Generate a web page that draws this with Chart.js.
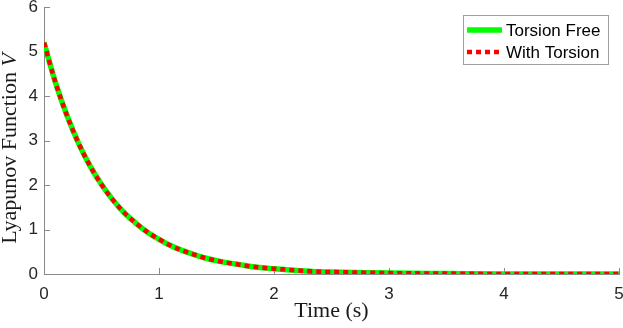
<!DOCTYPE html>
<html>
<head>
<meta charset="utf-8">
<title>Lyapunov Function</title>
<script src="https://cdn.jsdelivr.net/npm/chart.js@4.4.1/dist/chart.umd.min.js"></script>
<style>
  html, body { margin: 0; padding: 0; background: #fff; }
  #wrap { width: 623px; height: 328px; position: relative; }
</style>
</head>
<body>
<div id="wrap"><canvas id="lyapChart"></canvas></div>
<script>
// values
const timeSec = [0, 0.1, 0.2, 0.3, 0.4, 0.5, 0.6, 0.7, 0.8, 0.9,
                 1.0, 1.1, 1.2, 1.3, 1.4, 1.5, 1.6, 1.7, 1.8, 1.9,
                 2.0, 2.2, 2.4, 2.6, 2.8, 3.0, 3.5, 4.0, 4.5, 5.0];
const torsionFree = [5.20, 4.30, 3.56, 2.94, 2.43, 2.01, 1.66, 1.37, 1.14, 0.94,
                     0.78, 0.64, 0.53, 0.44, 0.36, 0.30, 0.25, 0.21, 0.17, 0.14,
                     0.12, 0.08, 0.05, 0.04, 0.03, 0.02, 0.01, 0.00, 0.00, 0.00];
const withTorsion = [5.20, 4.30, 3.56, 2.94, 2.43, 2.01, 1.66, 1.37, 1.14, 0.94,
                     0.78, 0.64, 0.53, 0.44, 0.36, 0.30, 0.25, 0.21, 0.17, 0.14,
                     0.12, 0.08, 0.05, 0.04, 0.03, 0.02, 0.01, 0.00, 0.00, 0.00];
const xTicks = [0, 1, 2, 3, 4, 5];
const yTicks = [0, 1, 2, 3, 4, 5, 6];

const axisColor = '#8a8a8a';
const tickFont = { family: 'Liberation Sans', size: 17 };

function toPoints(ys) {
    return timeSec.map((t, i) => ({ x: t, y: ys[i] }));
}

// MATLAB style ticks pointing into the plot
const inwardTicks = {
    id: 'inwardTicks',
    beforeDatasetsDraw(chart) {
        const { ctx, chartArea, scales } = chart;
        ctx.save();
        ctx.strokeStyle = axisColor;
        ctx.lineWidth = 1;
        ctx.beginPath();
        xTicks.forEach(v => {
            const px = Math.round(scales.x.getPixelForValue(v)) + 0.5;
            ctx.moveTo(px, chartArea.bottom);
            ctx.lineTo(px, chartArea.bottom - 6);
        });
        yTicks.forEach(v => {
            const py = Math.round(scales.y.getPixelForValue(v)) + 0.5;
            ctx.moveTo(chartArea.left, py);
            ctx.lineTo(chartArea.left + 6, py);
        });
        ctx.stroke();
        ctx.restore();
    }
};

// y title with an italic V
const yTitle = {
    id: 'yTitle',
    afterDraw(chart) {
        const { ctx, chartArea } = chart;
        const plain = 'Lyapunov Function ';
        const ital = 'V';
        ctx.save();
        ctx.translate(16, (chartArea.top + chartArea.bottom) / 2 + 8);
        ctx.rotate(-Math.PI / 2);
        ctx.fillStyle = '#1a1a1a';
        ctx.textBaseline = 'alphabetic';
        ctx.font = '22px "Liberation Serif"';
        const w1 = ctx.measureText(plain).width;
        ctx.font = 'italic 22px "Liberation Serif"';
        const w2 = ctx.measureText(ital).width;
        let x = -(w1 + w2) / 2;
        ctx.font = '22px "Liberation Serif"';
        ctx.textAlign = 'left';
        ctx.fillText(plain, x, 0);
        ctx.font = 'italic 22px "Liberation Serif"';
        ctx.fillText(ital, x + w1, 0);
        ctx.restore();
    }
};

// boxed legend in the top right corner
const boxLegend = {
    id: 'boxLegend',
    afterDraw(chart) {
        const { ctx } = chart;
        const sets = chart.data.datasets;
        const bx = 463.5, by = 15.5, bw = 145, bh = 49;
        ctx.save();
        ctx.fillStyle = '#fff';
        ctx.fillRect(bx, by, bw, bh);
        ctx.strokeStyle = '#a0a0a0';
        ctx.lineWidth = 1;
        ctx.strokeRect(bx, by, bw, bh);
        sets.forEach((ds, i) => {
            const cy = 30 + i * 22;
            ctx.beginPath();
            ctx.strokeStyle = ds.borderColor;
            ctx.lineWidth = ds.borderWidth;
            ctx.setLineDash(ds.borderDash || []);
            ctx.moveTo(467, cy);
            ctx.lineTo(502, cy);
            ctx.stroke();
            ctx.setLineDash([]);
            ctx.fillStyle = '#000';
            ctx.font = '17px "Liberation Sans"';
            ctx.textBaseline = 'middle';
            ctx.textAlign = 'left';
            ctx.fillText(ds.label, 506, cy + 1);
        });
        ctx.restore();
    }
};

const ctx = document.getElementById('lyapChart').getContext('2d');
const lyapChart = new Chart(ctx, {
    type: 'line',
    data: {
        datasets: [{
            label: 'Torsion Free',
            data: toPoints(torsionFree),
            borderColor: '#00ff00',
            borderWidth: 5.5,
            pointRadius: 0,
            cubicInterpolationMode: 'monotone',
            order: 1
        }, {
            label: 'With Torsion',
            data: toPoints(withTorsion),
            borderColor: '#ff0000',
            borderWidth: 4.5,
            borderDash: [5, 4],
            borderCapStyle: 'butt',
            pointRadius: 0,
            cubicInterpolationMode: 'monotone',
            order: 0
        }]
    },
    options: {
        responsive: true,
        maintainAspectRatio: false,
        animation: false,
        layout: { padding: { top: 7, right: 4, left: 0, bottom: 0 } },
        plugins: {
            legend: { display: false },
            tooltip: { enabled: false }
        },
        scales: {
            x: {
                type: 'linear',
                min: 0,
                max: 5,
                afterBuildTicks: s => { s.ticks = xTicks.map(v => ({ value: v })); },
                afterFit: s => { s.height = 54; s.paddingLeft = 0; s.paddingRight = 0; },
                grid: { display: false, drawTicks: false },
                border: { display: true, color: axisColor, width: 1 },
                ticks: { color: '#262626', font: tickFont, padding: 10, maxRotation: 0 },
                title: {
                    display: true,
                    text: 'Time (s)',
                    color: '#1a1a1a',
                    font: { family: 'Liberation Serif', size: 22 },
                    padding: { top: 0, bottom: 4 }
                }
            },
            y: {
                type: 'linear',
                min: 0,
                max: 6,
                afterBuildTicks: s => { s.ticks = yTicks.map(v => ({ value: v })); },
                afterFit: s => { s.width = 44; s.paddingTop = 0; s.paddingBottom = 0; },
                grid: { display: false, drawTicks: false },
                border: { display: true, color: axisColor, width: 1 },
                ticks: { color: '#262626', font: tickFont, padding: 6 }
            }
        }
    },
    plugins: [inwardTicks, yTitle, boxLegend]
});
</script>
</body>
</html>
